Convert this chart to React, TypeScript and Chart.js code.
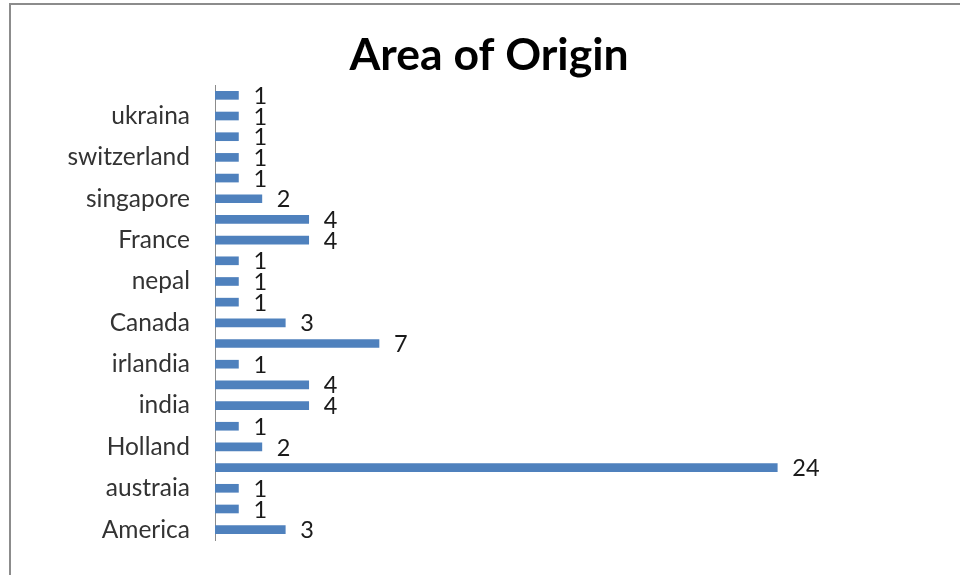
import React, { useEffect, useRef } from "react";
import { Chart, registerables } from "chart.js";

Chart.register(...registerables);

// Categories listed bottom to top; only every other category carries a visible name.
const categories: string[] = [
  "America", "", "austraia", "", "Holland", "", "india", "", "irlandia", "", "Canada",
  "", "nepal", "", "France", "", "singapore", "", "switzerland", "", "ukraina", "",
];
const counts: number[] = [3, 1, 1, 24, 2, 1, 4, 4, 1, 7, 3, 1, 1, 1, 4, 4, 2, 1, 1, 1, 1, 1];
const chartTitle = "Area of Origin";
// The value axis is hidden; its upper bound leaves room on the right for the labels.
const valueAxisMax = 31.8;

const FONT = "Lato, 'Open Sans', sans-serif";

const valueLabels = {
  id: "valueLabels",
  afterDatasetsDraw(chart: any) {
    const ctx = chart.ctx;
    const meta = chart.getDatasetMeta(0);
    ctx.save();
    ctx.font = `23.5px ${FONT}`;
    ctx.fillStyle = "#1a1a1a";
    ctx.textAlign = "left";
    ctx.textBaseline = "middle";
    meta.data.forEach((bar: any, i: number) => {
      ctx.fillText(String(counts[i]), bar.x + 15, bar.y + 1);
    });
    ctx.restore();
  },
};

export default function App() {
  const canvasRef = useRef<HTMLCanvasElement | null>(null);

  useEffect(() => {
    if (!canvasRef.current) return;
    const chart = new Chart(canvasRef.current, {
      type: "bar",
      data: {
        labels: categories,
        datasets: [
          {
            data: counts,
            backgroundColor: "#4f81bd",
            borderWidth: 0,
            barThickness: 8,
          },
        ],
      },
      plugins: [valueLabels],
      options: {
        indexAxis: "y",
        animation: false,
        responsive: false,
        maintainAspectRatio: false,
        layout: { padding: { left: 18, right: 0, top: 0, bottom: 35 } },
        plugins: {
          legend: { display: false },
          tooltip: { enabled: false },
          title: {
            display: true,
            text: chartTitle,
            color: "#000000",
            font: { family: FONT, size: 44.5, weight: "bold", lineHeight: 1.2 },
            padding: { top: 28.5, bottom: 3.1 },
          },
        },
        scales: {
          x: { display: false, min: 0, max: valueAxisMax },
          y: {
            reverse: true,
            afterFit: (scale: any) => {
              scale.width = 197;
            },
            grid: { display: false, drawTicks: false },
            border: { display: true, color: "#8c8c8c", width: 1 },
            ticks: {
              autoSkip: false,
              padding: 25,
              color: "#333333",
              font: { family: FONT, size: 24.5, lineHeight: 0.8 },
            },
          },
        },
      },
    });
    return () => chart.destroy();
  }, []);

  return (
    <div style={{ position: "fixed", left: 0, top: 0, width: 960, height: 575, background: "#ffffff", overflow: "hidden" }}>
      <div
        style={{
          position: "absolute",
          left: 9,
          top: 3,
          width: 1000,
          height: 650,
          border: "2px solid #8c8c8c",
          boxSizing: "border-box",
        }}
      />
      <canvas ref={canvasRef} width={960} height={575} style={{ position: "absolute", left: 0, top: 0 }} />
    </div>
  );
}
